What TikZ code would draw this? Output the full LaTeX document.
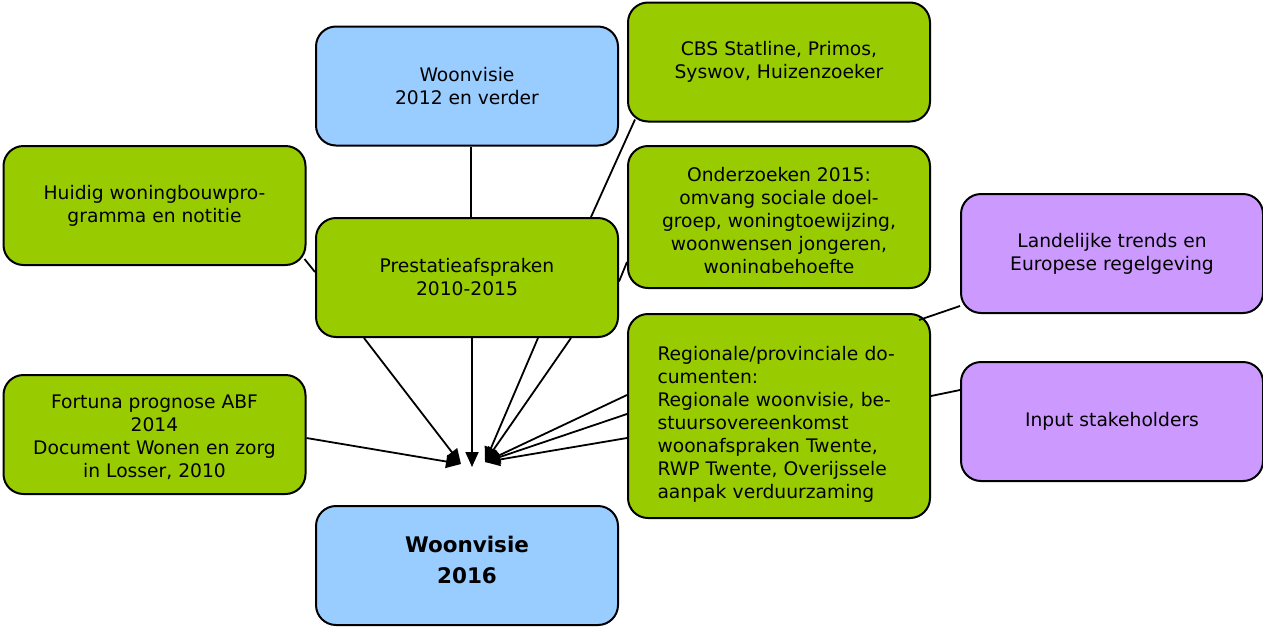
\documentclass[tikz,border=0pt]{standalone}
\usepackage{fontspec}
\setmainfont{DejaVu Sans}
\usetikzlibrary{arrows.meta,calc}
\definecolor{grn}{HTML}{99CC00}
\definecolor{blu}{HTML}{99CCFF}
\definecolor{pur}{HTML}{CC99FF}
\tikzset{
  box/.style={draw=black, line width=2pt, rounded corners=20pt, minimum width=302pt, minimum height=119pt, align=center, inner sep=0pt, font=\fontsize{18.7}{23}\selectfont},
  gbox/.style={box, fill=grn},
  bbox/.style={box, fill=blu},
  pbox/.style={box, fill=pur},
  conn/.style={line width=1.8pt},
  arr/.style={line width=1.8pt, -{Triangle[length=15pt,width=13pt]}},
  txt/.style={align=center, inner sep=0pt, font=\fontsize{18.7}{23}\selectfont}
}
\begin{document}
\begin{tikzpicture}[x=1pt,y=-1pt]
\useasboundingbox (0,0) rectangle (1263,630);
\node[bbox] (w2012) at (467,86) {Woonvisie\\2012 en verder};
\node[gbox] (cbs) at (779,62) {CBS Statline, Primos,\\Syswov, Huizenzoeker};
\node[gbox] (huidig) at (154.5,205.5) {Huidig woningbouwpro-\\gramma en notitie};
\node[gbox] (prest) at (467,277.5) {Prestatieafspraken\\2010-2015};
\node[gbox, minimum height=142pt] (onder) at (779,217) {};
\begin{scope}
\clip (630,150) rectangle (928,272);
\node[txt] (ondertxt) at (779,222) {Onderzoeken 2015:\\omvang sociale doel-\\groep, woningtoewijzing,\\woonwensen jongeren,\\woningbehoefte};
\end{scope}
\node[pbox] (land) at (1112,253.5) {Landelijke trends en\\Europese regelgeving};
\node[gbox, minimum height=204pt] (regio) at (779,416) {};
\node[txt, text width=243pt, align=left] (regiotxt) at (779,424) {%
\makebox[243pt][s]{Regionale/provinciale do-}\\
cumenten:\\
\makebox[243pt][s]{Regionale woonvisie, be-}\\
stuursovereenkomst\\
\makebox[243pt][s]{woonafspraken Twente,}\\
\makebox[243pt][s]{RWP Twente, Overijssele}\\
aanpak verduurzaming};
\node[pbox] (input) at (1112,421.5) {Input stakeholders};
\node[gbox] (fortuna) at (154.5,434.5) {};
\node[txt] (fortunatxt) at (154.5,437) {Fortuna prognose ABF\\2014\\Document Wonen en zorg\\in Losser, 2010};
\node[bbox] (w2016) at (467,565.5) {};
\node[txt, font=\bfseries\fontsize{21.5}{31}\selectfont] (w2016txt) at (467,560) {Woonvisie\\2016};

\coordinate (tL) at (461,464);
\coordinate (tM) at (472,467);
\coordinate (tR) at (485,462);

\draw[conn] ($(w2012.south)+(4,0)$) -- ($(prest.north)+(4,0)$);
\draw[conn] ($(cbs.south west)+(8,-3)$) -- ($(prest.north)+(124,0)$);
\draw[conn] ($(huidig.south east)+(-2,-7)$) -- ($(prest.west)+(0,-5.5)$);
\draw[conn] ($(onder.west)+(0,45)$) -- ($(prest.east)+(0,4)$);
\draw[conn] ($(land.south west)+(0,-8)$) -- ($(regio.north east)+(-12,7)$);
\draw[conn] ($(input.west)+(0,-31.5)$) -- ($(regio.east)+(0,-20)$);

\draw[arr] ($(prest.south west)+(49,0)$) -- (tL);
\draw[arr] ($(prest.south)+(5,0)$) -- (tM);
\draw[arr] ($(prest.south west)+(223,0)$) -- (tR);
\draw[arr] ($(prest.south west)+(256,0)$) -- (tR);
\draw[arr] ($(fortuna.east)+(0,3.5)$) -- (tL);
\draw[arr] ($(regio.west)+(0,-21)$) -- (tR);
\draw[arr] ($(regio.west)+(0,-2)$) -- (tR);
\draw[arr] ($(regio.west)+(0,22)$) -- (tR);
\end{tikzpicture}
\end{document}
